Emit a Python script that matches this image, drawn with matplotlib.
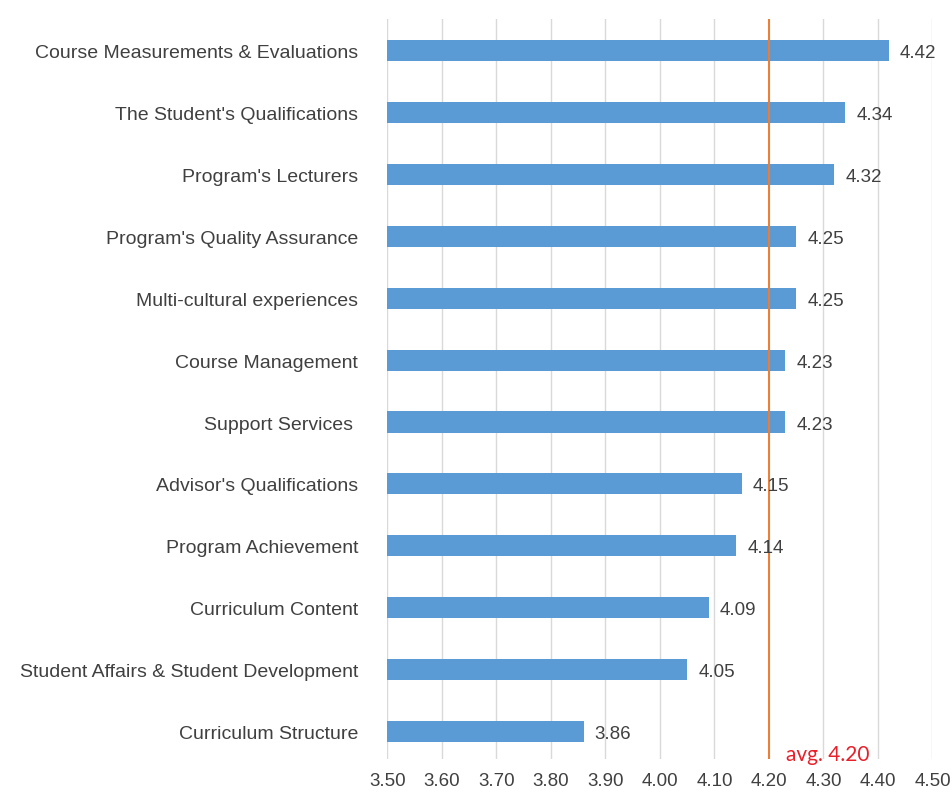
import matplotlib.pyplot as plt
import numpy as np

# categories, top to bottom as shown
categories = [
    "Course Measurements & Evaluations",
    "The Student's Qualifications",
    "Program's Lecturers",
    "Program's Quality Assurance",
    "Multi-cultural experiences",
    "Course Management",
    "Support Services ",
    "Advisor's Qualifications",
    "Program Achievement",
    "Curriculum Content",
    "Student Affairs & Student Development",
    "Curriculum Structure",
]
scores = [4.42, 4.34, 4.32, 4.25, 4.25, 4.23, 4.23, 4.15, 4.14, 4.09, 4.05, 3.86]
avg_score = 4.20
x_ticks = [3.50, 3.60, 3.70, 3.80, 3.90, 4.00, 4.10, 4.20, 4.30, 4.40, 4.50]

plt.rcParams['font.family'] = ['Liberation Sans', 'DejaVu Sans']

fig = plt.figure(figsize=(9.52, 8.12), dpi=100)
ax = fig.add_axes([0.407, 0.064, 0.5725, 0.911])

y = np.arange(len(categories))
ax.barh(y, [s - 3.5 for s in scores], left=3.5, height=0.34, color='#5B9BD5', zorder=2)

# value labels
for yi, s in zip(y, scores):
    ax.text(s + 0.02, yi, f"{s:.2f}", va='center_baseline', ha='left',
            fontsize=13.5, color='#404040', zorder=4)

# average line
ax.axvline(avg_score, color='#ED7D31', linewidth=1.4, zorder=3)
ax.text(avg_score + 0.032, 11.36, f"avg. {avg_score:.2f}", color='#E8202A',
        fontsize=15, family=['Lato', 'DejaVu Sans'], va='center', ha='left', zorder=4)

ax.set_xlim(3.5, 4.5)
ax.set_ylim(11.44, -0.5)
ax.set_xticks(x_ticks)
ax.set_xticklabels([f"{t:.2f}" for t in x_ticks], fontsize=13.5, color='#404040')
ax.set_yticks(y)
ax.set_yticklabels(categories, fontsize=14, color='#404040')
ax.tick_params(axis='x', length=0, pad=9)
ax.tick_params(axis='y', length=0, pad=21)
ax.grid(axis='x', color='#D9D9D9', linewidth=1.0, zorder=0)
ax.set_axisbelow(True)
for sp in ax.spines.values():
    sp.set_visible(False)

fig.savefig('out.png', dpi=100, facecolor='white')
